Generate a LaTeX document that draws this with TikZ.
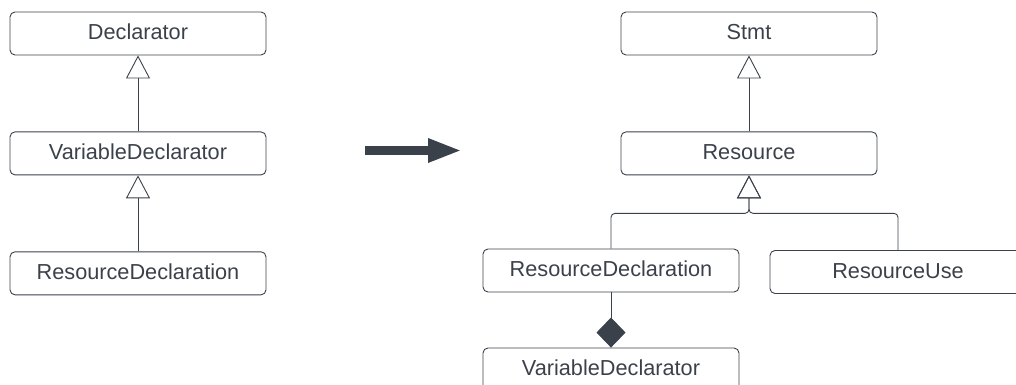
\documentclass[tikz,border=0pt]{standalone}
\usepackage{fontspec}
\setmainfont{Liberation Sans}
\usepackage{xcolor}
\usetikzlibrary{positioning, arrows.meta}
\definecolor{ink}{HTML}{3B414B}

\begin{document}
\begin{tikzpicture}[
    x=1pt, y=-1pt,
    node distance=76pt,
    every node/.style={font=\fontsize{21.7}{24}\selectfont, text=ink},
    cls/.style={rectangle, draw=ink, line width=0.9pt, rounded corners=5pt, minimum width=256pt, minimum height=43pt, inner sep=0pt, text height=12.7pt, text depth=0pt},
    inherit/.style={draw=ink, line width=0.9pt, -{Triangle[open, length=23pt, width=24pt]}},
    compose/.style={draw=ink, line width=0.9pt, -{Diamond[length=30pt, width=29pt, fill=ink]}},
    maparr/.style={draw=ink, line width=9pt, -{Triangle[length=34pt, width=22pt]}},
]
    \useasboundingbox (0,0) rectangle (1016,385);

    % before: plain chain
    \node[cls] (decl) at (138,33.5) {Declarator};
    \node[cls, below=of decl] (vardecl) {VariableDeclarator};
    \node[cls, below=of vardecl] (resdecl) {ResourceDeclaration};

    \draw[inherit] (vardecl) -- (decl);
    \draw[inherit] (resdecl) -- (vardecl);

    % refactoring arrow
    \coordinate (mapfrom) at (365,150.5);
    \coordinate (mapto) at (462,150.5);
    \draw[maparr] (mapfrom) -- (mapto);

    % after: Resource split in two
    \node[cls] (stmt) at (749,33.5) {Stmt};
    \node[cls, below=of stmt] (resource) {Resource};
    \node[cls] (resdeclB) at (611,270.5) {ResourceDeclaration};
    \node[cls] (resuse) at (898,272) {ResourceUse};
    \node[cls] (vardeclB) at (611,369.5) {VariableDeclarator};
    \coordinate (fork) at ([yshift=-38pt]resource.south);

    \draw[inherit] (resource) -- (stmt);
    \draw[inherit, rounded corners=4pt] (resdeclB.north) |- (fork) -- (resource.south);
    \draw[inherit, rounded corners=4pt] (resuse.north) |- (fork) -- (resource.south);
    \draw[compose] (resdeclB) -- (vardeclB);
\end{tikzpicture}
\end{document}
